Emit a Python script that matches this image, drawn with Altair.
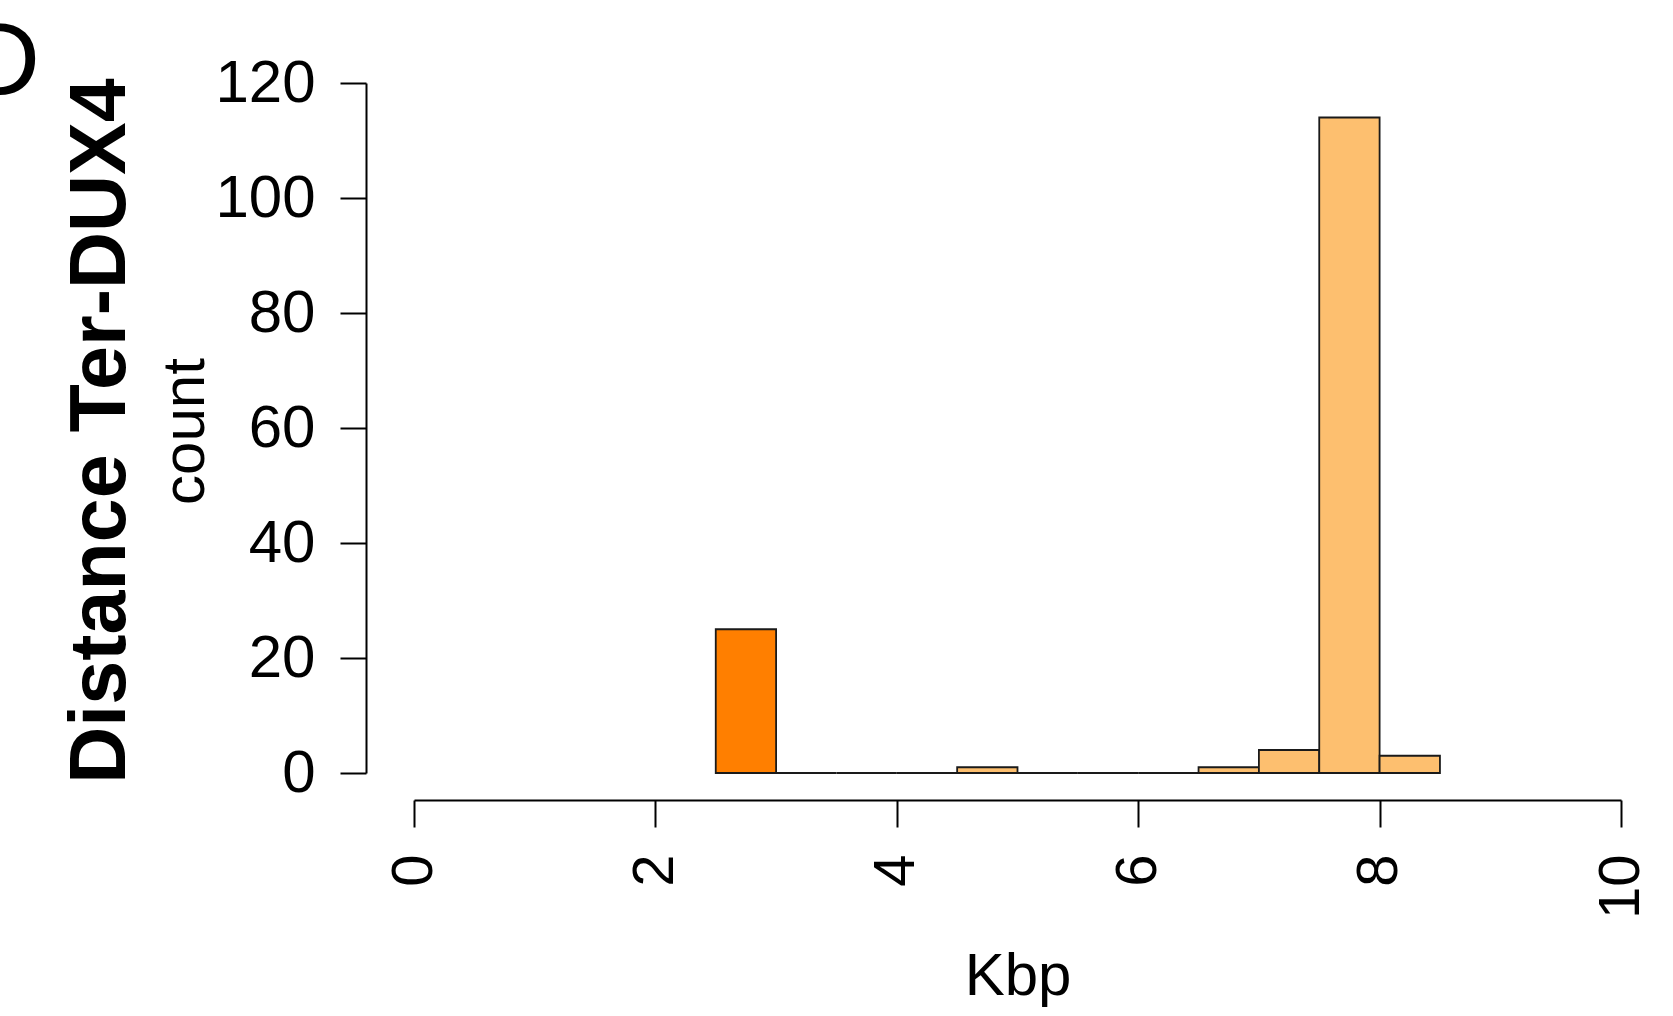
import altair as alt
import pandas as pd

bin_start = [2.5, 3.0, 3.5, 4.0, 4.5, 5.0, 5.5, 6.0, 6.5, 7.0, 7.5, 8.0]
bin_end = [3.0, 3.5, 4.0, 4.5, 5.0, 5.5, 6.0, 6.5, 7.0, 7.5, 8.0, 8.5]
counts = [25, 0, 0, 0, 1, 0, 0, 0, 1, 4, 114, 3]
groups = ["near"] + ["far"] * 11
x_ticks = [0, 2, 4, 6, 8, 10]
y_ticks = [0, 20, 40, 60, 80, 100, 120]

df = pd.DataFrame({"start": bin_start, "end": bin_end, "count": counts,
                   "base": [0] * len(counts), "group": groups})

FONT = "Liberation Sans"

bars = alt.Chart(df).mark_bar(stroke="#1a1a1a", strokeWidth=1.8, binSpacing=0).encode(
    x=alt.X("start:Q", scale=alt.Scale(domain=[0, 10], nice=False, zero=False),
            axis=alt.Axis(values=x_ticks, title="Kbp", offset=27, tickSize=27,
                          labelAngle=270, labelPadding=27, labelFontSize=58,
                          labelFont=FONT, labelColor="black", titleFont=FONT,
                          titleFontSize=60, titleFontWeight="normal", titleColor="black",
                          titleBaseline="alphabetic", titleY=194,
                          domainColor="black", domainWidth=2, tickColor="black",
                          tickWidth=2, grid=False, labelFlush=False)),
    x2="end:Q",
    y=alt.Y("count:Q", scale=alt.Scale(domain=[0, 120], nice=False),
            axis=alt.Axis(values=y_ticks, title="count", offset=48, tickSize=26,
                          labelPadding=25, labelFontSize=60, labelFont=FONT,
                          labelColor="black", titleFont=FONT, titleFontSize=60,
                          titleFontWeight="normal", titleColor="black",
                          titleBaseline="alphabetic", titleX=-163, titleY=348,
                          domainColor="black", domainWidth=2, tickColor="black",
                          tickWidth=2, grid=False, labelFlush=False)),
    y2="base:Q",
    color=alt.Color("group:N", scale=alt.Scale(domain=["near", "far"],
                                               range=["#FF7F00", "#FDBF6F"]), legend=None),
)

label_df = pd.DataFrame({"t": ["Distance Ter-DUX4"]})
big_label = alt.Chart(label_df).mark_text(
    angle=270, align="center", baseline="alphabetic", font=FONT,
    fontSize=79, fontWeight="bold", color="black"
).encode(text="t:N", x=alt.value(-289), y=alt.value(348))

panel_df = pd.DataFrame({"t": ["D"]})
panel = alt.Chart(panel_df).mark_text(
    align="right", baseline="alphabetic", font=FONT, fontSize=104, color="black"
).encode(text="t:N", x=alt.value(-374), y=alt.value(12))

chart = alt.layer(bars, big_label, panel).properties(
    width=1207, height=690,
    autosize=alt.AutoSizeParams(type="none"),
    padding={"left": 414, "top": 83, "right": 52, "bottom": 243},
).configure(background="white").configure_view(strokeWidth=0, stroke="transparent")

chart.save("out.html", embed_options={"renderer": "svg", "actions": False})
